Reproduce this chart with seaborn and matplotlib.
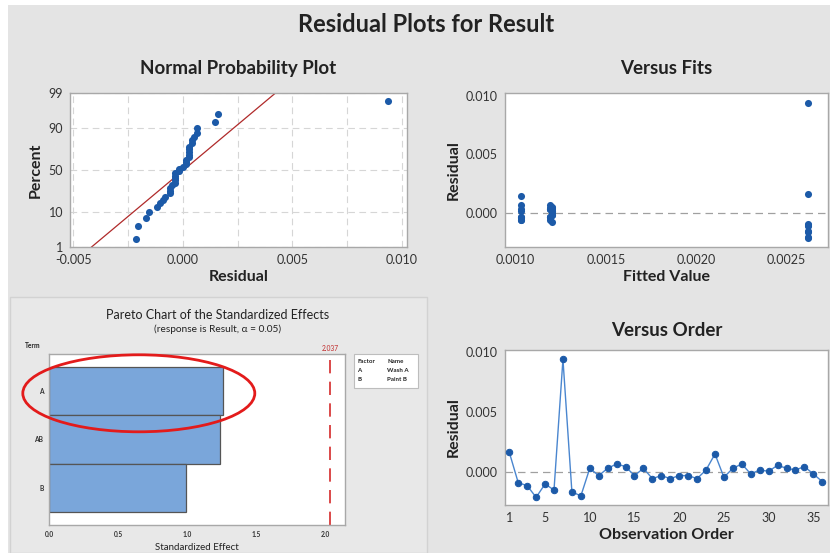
import numpy as np
import pandas as pd
import seaborn as sns
import matplotlib
matplotlib.use("Agg")
import matplotlib.pyplot as plt
from matplotlib.patches import Rectangle, Ellipse
from matplotlib.ticker import FixedLocator
from statistics import NormalDist

# ---------------- data ----------------
order = list(range(1, 37))
residuals = [0.00161, -0.00092, -0.00117, -0.00214, -0.00103, -0.00153, 0.00936, -0.00167, -0.00203,
             0.00028, -0.00033, 0.00028, 0.00064, 0.00042, -0.00033, 0.00028, -0.00058, -0.00033,
             -0.00058, -0.00033, -0.00033, -0.00058, 0.00014, 0.00147, -0.00047, 0.00028, 0.00064,
             -0.00019, 0.00014, 0.00003, 0.00053, 0.00028, 0.00014, 0.00042, -0.00019, -0.00083]
fitted = ([0.00262] * 9) + ([0.00119] * 9) + ([0.00103] * 9) + ([0.00120] * 9)

terms = ["A", "AB", "B"]
effects = [1.256, 1.237, 0.988]
critical = 2.037
factor_rows = [("Factor", "Name"), ("A", "Wash A"), ("B", "Paint B")]

pct_ticks = [1, 10, 50, 90, 99]

# ---------------- style ----------------
sns.set_theme(style="white")
FONT = ["Lato", "DejaVu Sans"]
plt.rcParams["font.family"] = FONT
W, H = 830, 553
fig = plt.figure(figsize=(W / 100, H / 100), dpi=100)
fig.patch.set_facecolor("white")

BG = "#e4e4e4"
BLUE = "#1c5aa8"
LBLUE = "#4a86cf"
SPINE = "#a8a8a8"
TXT = "#222222"
TCK = "#333333"


def px_axes(l, t, r, b):
    return fig.add_axes([l / W, 1 - b / H, (r - l) / W, (b - t) / H])


# background panels
fig.patches.append(Rectangle((8 / W, 0), 1, 1 - 5 / H, transform=fig.transFigure,
                             facecolor=BG, edgecolor="none", zorder=-10))
fig.patches.append(Rectangle((10 / W, 0), 417 / W, 1 - 297 / H, transform=fig.transFigure,
                             facecolor="#e8e8e8", edgecolor="#d2d2d2", lw=1, zorder=-9))

fig.text(426 / W, 1 - 25 / H, "Residual Plots for Result", ha="center", va="center",
         fontsize=17, fontweight="bold", color=TXT)


def style_ax(ax, fs=9):
    ax.set_facecolor("white")
    for s in ax.spines.values():
        s.set_color(SPINE)
        s.set_linewidth(1)
    ax.tick_params(axis="both", which="major", direction="out", length=3, width=0.8,
                   color=SPINE, labelsize=fs, labelcolor=TCK, pad=2)


LBL = dict(fontsize=11.5, fontweight="bold", color=TXT)
TTL = dict(fontsize=13.5, fontweight="bold", color=TXT)

# ---------------- normal probability plot ----------------
ax1 = px_axes(70, 93, 407, 247)
res_sorted = np.sort(np.array(residuals))
n = len(res_sorted)
nd = NormalDist()
zvals = np.array([nd.inv_cdf((i - 0.3) / (n + 0.4)) for i in range(1, n + 1)])
mu = float(np.mean(residuals))
sd = float(np.std(residuals, ddof=1))
zline = np.array([-3.0, 3.0])
sns.lineplot(x=mu + sd * zline, y=zline, ax=ax1, color="#b02a2a", lw=0.9, sort=False)
sns.scatterplot(x=res_sorted, y=zvals, ax=ax1, color=BLUE, s=26, linewidth=0, zorder=3)
zt = [nd.inv_cdf(p / 100) for p in pct_ticks]
ax1.set_ylim(zt[0], zt[-1])
ax1.set_xlim(-0.00514, 0.01023)
ax1.yaxis.set_major_locator(FixedLocator(zt))
ax1.set_yticklabels([str(p) for p in pct_ticks])
ax1.xaxis.set_major_locator(FixedLocator([-0.005, 0.0, 0.005, 0.010]))
ax1.xaxis.set_minor_locator(FixedLocator([-0.0025, 0.0025, 0.0075]))
ax1.set_xticklabels(["-0.005", "0.000", "0.005", "0.010"])
style_ax(ax1)
ax1.grid(True, which="both", axis="x", color="#d6d6d6", ls=(0, (6, 4)), lw=0.8)
ax1.grid(True, which="major", axis="y", color="#d6d6d6", ls=(0, (6, 4)), lw=0.8)
ax1.set_axisbelow(True)
ax1.set_xlabel("Residual", labelpad=3, **LBL)
ax1.set_ylabel("Percent", labelpad=4, **LBL)
ax1.set_title("Normal Probability Plot", pad=14, **TTL)

# ---------------- versus fits ----------------
ax2 = px_axes(505, 93.3, 828, 246.7)
df = pd.DataFrame({"Order": order, "Residual": residuals, "Fitted": fitted})
ax2.axhline(0, color="#a0a0a0", ls=(0, (6, 4)), lw=0.9, zorder=1)
sns.scatterplot(data=df, x="Fitted", y="Residual", ax=ax2, color=BLUE, s=26, linewidth=0, zorder=3)
ax2.set_xlim(0.000941, 0.002733)
ax2.set_ylim(-0.0029, 0.0102)
ax2.xaxis.set_major_locator(FixedLocator([0.0010, 0.0015, 0.0020, 0.0025]))
ax2.set_xticklabels(["0.0010", "0.0015", "0.0020", "0.0025"])
ax2.yaxis.set_major_locator(FixedLocator([0.0, 0.005, 0.010]))
ax2.set_yticklabels(["0.000", "0.005", "0.010"])
style_ax(ax2)
ax2.set_xlabel("Fitted Value", labelpad=3, **LBL)
ax2.set_ylabel("Residual", labelpad=4, **LBL)
ax2.set_title("Versus Fits", pad=14, **TTL)

# ---------------- versus order ----------------
ax4 = px_axes(505, 350, 828, 505)
ax4.axhline(0, color="#a0a0a0", ls=(0, (6, 4)), lw=0.9, zorder=1)
sns.lineplot(data=df, x="Order", y="Residual", ax=ax4, color=LBLUE, lw=1.0, marker="o",
             markersize=4.6, markerfacecolor=BLUE, markeredgecolor=BLUE, zorder=3)
ax4.set_xlim(0.52, 36.64)
ax4.set_ylim(-0.00278, 0.01014)
ax4.xaxis.set_major_locator(FixedLocator([1, 5, 10, 15, 20, 25, 30, 35]))
ax4.set_xticklabels(["1", "5", "10", "15", "20", "25", "30", "35"])
ax4.yaxis.set_major_locator(FixedLocator([0.0, 0.005, 0.010]))
ax4.set_yticklabels(["0.000", "0.005", "0.010"])
style_ax(ax4)
ax4.set_xlabel("Observation Order", labelpad=3, **LBL)
ax4.set_ylabel("Residual", labelpad=4, **LBL)
ax4.set_title("Versus Order", pad=10, **TTL)

# ---------------- pareto chart ----------------
ax3 = px_axes(49, 354, 345, 525)
pdf = pd.DataFrame({"Term": terms, "Effect": effects})
sns.barplot(data=pdf, x="Effect", y="Term", orient="h", ax=ax3, color="#7aa6da",
            saturation=1, width=1.0, edgecolor="#555555", linewidth=0.9)
ax3.axvline(critical, color="#d42a2a", lw=1.2, ls=(0, (8, 5)))
ax3.set_xlim(0, 2.142)
ax3.set_ylim(2.76, -0.76)
ax3.xaxis.set_major_locator(FixedLocator([0.0, 0.5, 1.0, 1.5, 2.0]))
ax3.set_xticklabels(["0.0", "0.5", "1.0", "1.5", "2.0"])
style_ax(ax3, fs=4.8)
ax3.tick_params(axis="both", length=2, colors="#888888", labelcolor=TCK)
for lbl in ax3.get_yticklabels() + ax3.get_xticklabels():
    lbl.set_fontweight("bold")
ax3.set_xlabel("Standardized Effect", fontsize=7, color=TXT, labelpad=4)
ax3.set_ylabel("")
ax3.text(critical, 1.01, f"{critical:.3f}", transform=ax3.get_xaxis_transform(),
         ha="center", va="bottom", fontsize=4.8, color="#c02a2a")
fig.text(33 / W, 1 - 346 / H, "Term", fontsize=4.8, ha="center", va="center", color=TXT,
         fontweight="bold")
fig.text(218 / W, 1 - 315 / H, "Pareto Chart of the Standardized Effects", ha="center",
         va="center", fontsize=9, color=TXT)
fig.text(218 / W, 1 - 329 / H, "(response is Result, α = 0.05)", ha="center",
         va="center", fontsize=7.3, color=TXT)

# factor legend box
fig.patches.append(Rectangle((354 / W, 1 - 388 / H), 64 / W, 34 / H, transform=fig.transFigure,
                             facecolor="white", edgecolor="#bdbdbd", lw=0.8, zorder=5))
for i, (a, b) in enumerate(factor_rows):
    yy = 1 - (361.7 + i * 8.8) / H
    fig.text(357 / W, yy, a, fontsize=4.4, color=TXT, va="center", zorder=6, fontweight="bold")
    fig.text(387 / W, yy, b, fontsize=4.4, color=TXT, va="center", zorder=6, fontweight="bold")

# red highlight ellipse
fig.patches.append(Ellipse((138.8 / W, 1 - 393.3 / H), 232 / W, 77 / H, transform=fig.transFigure,
                           fill=False, edgecolor="#e31b1b", lw=2, zorder=10))

fig.savefig("out.png", dpi=100, facecolor=fig.get_facecolor())
